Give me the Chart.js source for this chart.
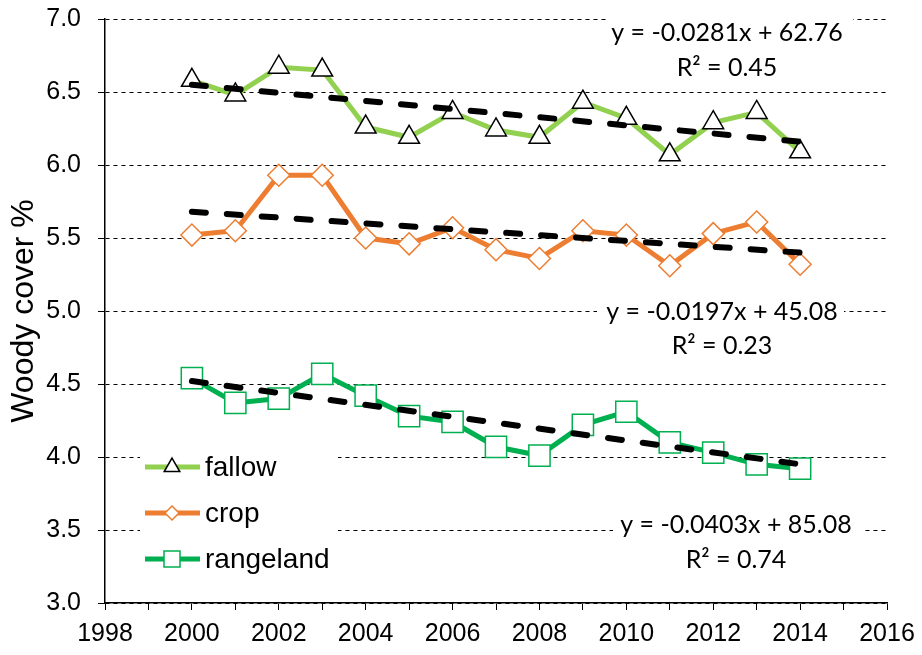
<!DOCTYPE html>
<html>
<head>
<meta charset="utf-8">
<script src="https://cdn.jsdelivr.net/npm/chart.js@4.4.0/dist/chart.umd.min.js"></script>
<style>
  html, body { margin: 0; padding: 0; background: #fff; }
  #wrap { width: 922px; height: 655px; }
</style>
</head>
<body>
<div id="wrap"><canvas id="chart" width="922" height="655"></canvas></div>
<script>
// values
const years = [2000, 2001, 2002, 2003, 2004, 2005, 2006, 2007, 2008, 2009, 2010, 2011, 2012, 2013, 2014];
const fallow = [6.58, 6.48, 6.67, 6.65, 6.26, 6.19, 6.36, 6.24, 6.19, 6.43, 6.32, 6.07, 6.29, 6.36, 6.09];
const crop = [5.52, 5.55, 5.93, 5.93, 5.50, 5.46, 5.57, 5.42, 5.36, 5.55, 5.52, 5.31, 5.53, 5.61, 5.32];
const rangeland = [4.54, 4.37, 4.40, 4.57, 4.42, 4.28, 4.24, 4.07, 4.01, 4.22, 4.31, 4.10, 4.03, 3.95, 3.92];

// linear trend end points
const trendYears = [2000, 2014];
const fallowTrend = [6.55, 6.16];
const cropTrend = [5.68, 5.40];
const rangelandTrend = [4.52, 3.95];

const seriesNames = ['fallow', 'crop', 'rangeland'];
const equations = ['y = -0.0281x + 62.76', 'y = -0.0197x + 45.08', 'y = -0.0403x + 85.08'];
const rSquared = ['R\u00B2 = 0.45', 'R\u00B2 = 0.23', 'R\u00B2 = 0.74'];
const axisTitle = 'Woody cover %';

const colors = ['#92D050', '#ED7D31', '#00B050'];
const markerBorders = ['#000000', '#ED7D31', '#00B050'];
const SANS = "'Liberation Sans', Arial, sans-serif";

function toPoints(xs, ys) {
    return xs.map((x, i) => ({ x: x, y: ys[i] }));
}

function seriesSet(i, values, style, radius) {
    return {
        label: seriesNames[i],
        data: toPoints(years, values),
        borderColor: colors[i],
        borderWidth: 5,
        pointStyle: style,
        pointRadius: radius,
        pointBackgroundColor: '#ffffff',
        pointBorderColor: markerBorders[i],
        pointBorderWidth: 1.5,
        tension: 0,
        order: 1
    };
}

function trendSet(values) {
    return {
        label: 'trend',
        data: toPoints(trendYears, values),
        borderColor: '#000000',
        borderWidth: 6,
        borderDash: [14, 21],
        borderCapStyle: 'round',
        pointRadius: 0,
        order: 0
    };
}

// equation boxes and legend, drawn over the grid but under the lines
const eqBoxes = [
    { x: 607, y: 8, w: 246, h: 78, cx: 727, y1: 33, y2: 68 },
    { x: 597, y: 292, w: 247, h: 74, cx: 722, y1: 312, y2: 346 },
    { x: 613, y: 505, w: 250, h: 74, cx: 736, y1: 525, y2: 560 }
];

function drawMarker(ctx, kind, x, y, r) {
    ctx.beginPath();
    if (kind === 'triangle') {
        ctx.moveTo(x, y - r);
        ctx.lineTo(x + r * 0.866, y + r / 2);
        ctx.lineTo(x - r * 0.866, y + r / 2);
    } else if (kind === 'diamond') {
        ctx.moveTo(x, y - r);
        ctx.lineTo(x + r, y);
        ctx.lineTo(x, y + r);
        ctx.lineTo(x - r, y);
    } else {
        ctx.rect(x - r, y - r, 2 * r, 2 * r);
    }
    ctx.closePath();
    ctx.fill();
    ctx.stroke();
}

const overlay = {
    id: 'overlay',
    beforeDatasetsDraw(chart) {
        const ctx = chart.ctx;
        ctx.save();
        ctx.fillStyle = '#ffffff';
        eqBoxes.forEach(b => ctx.fillRect(b.x, b.y, b.w, b.h));
        ctx.fillRect(140, 440, 198, 142);

        ctx.fillStyle = '#000000';
        ctx.font = "25px Lato, 'Open Sans', sans-serif";
        ctx.textAlign = 'center';
        ctx.textBaseline = 'middle';
        eqBoxes.forEach((b, i) => {
            ctx.fillText(equations[i], b.cx, b.y1);
            ctx.fillText(rSquared[i], b.cx, b.y2);
        });

        // legend
        const rows = [467, 513, 559];
        const kinds = ['triangle', 'diamond', 'square'];
        const sizes = [9, 7, 8];
        rows.forEach((y, i) => {
            ctx.strokeStyle = colors[i];
            ctx.lineWidth = 5;
            ctx.beginPath();
            ctx.moveTo(145, y);
            ctx.lineTo(200, y);
            ctx.stroke();
            ctx.fillStyle = '#ffffff';
            ctx.strokeStyle = markerBorders[i];
            ctx.lineWidth = 1.5;
            drawMarker(ctx, kinds[i], 172, y, sizes[i]);
            ctx.fillStyle = '#000000';
            ctx.font = '28px ' + SANS;
            ctx.textAlign = 'left';
            ctx.fillText(seriesNames[i], 205, y + 1);
        });
        ctx.restore();
    }
};

Chart.defaults.font.family = SANS;
Chart.defaults.color = '#000000';

new Chart(document.getElementById('chart'), {
    type: 'line',
    data: {
        datasets: [
            trendSet(fallowTrend),
            trendSet(cropTrend),
            trendSet(rangelandTrend),
            seriesSet(0, fallow, 'triangle', 12),
            seriesSet(1, crop, 'rectRot', 11),
            seriesSet(2, rangeland, 'rect', 15)
        ]
    },
    options: {
        responsive: false,
        animation: false,
        layout: { padding: { left: 0, top: 19, right: 35, bottom: 0 } },
        plugins: {
            legend: { display: false },
            tooltip: { enabled: false }
        },
        scales: {
            x: {
                type: 'linear',
                min: 1998,
                max: 2016,
                afterFit: s => { s.height = 52; s.paddingLeft = 0; s.paddingRight = 0; },
                ticks: {
                    stepSize: 1,
                    autoSkip: false,
                    maxRotation: 0,
                    padding: 9,
                    font: { size: 25 },
                    callback: v => (v % 2 === 0 ? String(v) : '')
                },
                grid: {
                    drawOnChartArea: false,
                    drawTicks: true,
                    tickLength: 7,
                    color: '#000000',
                    lineWidth: 1
                },
                border: { display: true, color: '#000000', width: 1.5 }
            },
            y: {
                min: 3,
                max: 7,
                afterFit: s => { s.width = 105; s.paddingTop = 0; s.paddingBottom = 0; },
                ticks: {
                    stepSize: 0.5,
                    padding: 17,
                    font: { size: 25 },
                    callback: v => v.toFixed(1)
                },
                grid: {
                    color: '#000000',
                    lineWidth: 1,
                    tickLength: 7,
                    tickBorderDash: [],
                    tickColor: '#000000'
                },
                border: { display: true, color: '#000000', width: 1.5, dash: [4, 4] },
                title: {
                    display: true,
                    text: axisTitle,
                    font: { size: 32 },
                    padding: { top: 5, bottom: 0 }
                }
            }
        }
    },
    plugins: [overlay]
});
</script>
</body>
</html>
